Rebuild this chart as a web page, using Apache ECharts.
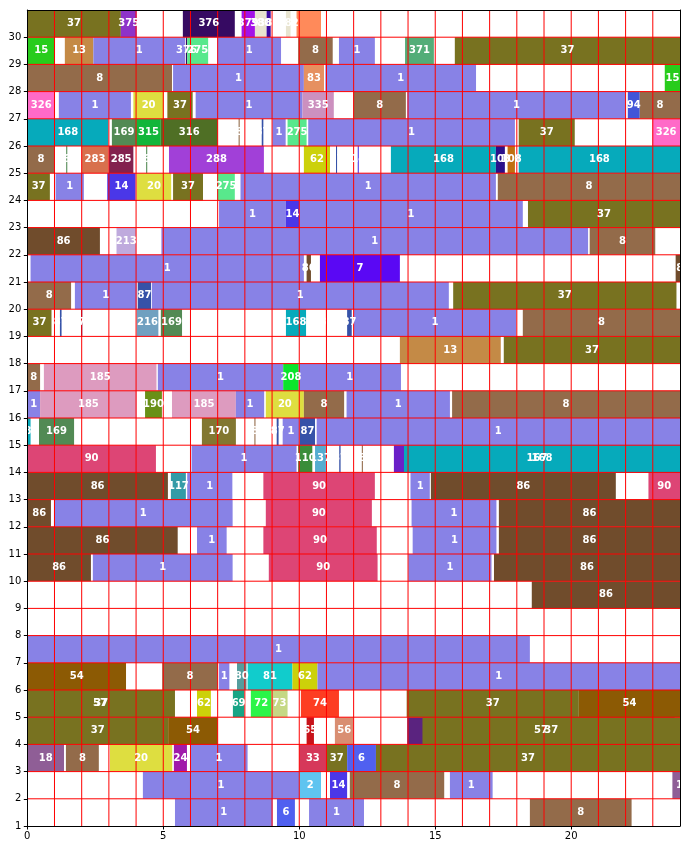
<!DOCTYPE html>
<html><head><meta charset="utf-8">
<script src="https://cdn.jsdelivr.net/npm/echarts/dist/echarts.min.js"></script>
<style>html,body{margin:0;padding:0;background:#fff}#c{width:691px;height:850px}</style>
</head><body><div id="c"></div>
<script>
// Each row: [start, end, job, (optional) showLabel]
const r30 = [[0,3.44,37],[3.44,4.02,375],[5.72,7.63,376],[7.88,8.37,379],[8.37,8.80,380],[8.80,8.95,381],[9.51,9.68,382],[9.90,10.80,383,false]];
const r29 = [[0,1.02,15],[1.38,2.43,13],[2.43,5.80,1],[5.83,5.88,376],[5.88,6.65,275],[6.99,9.33,1],[9.96,11.23,8],[11.46,12.78,1],[13.89,14.95,371],[15.72,24,37]];
const r28 = [[0,5.32,8],[5.36,10.17,1],[10.17,10.91,83],[10.96,16.50,1],[23.44,24,15]];
const r27 = [[0,1.02,326],[1.16,3.81,1],[3.90,5.02,20],[5.15,6.08,37],[6.19,10.12,1],[10.12,11.27,335],[11.99,13.92,8],[13.97,22.0,1],[22.08,22.52,94],[22.52,24,8]];
const r26 = [[0,2.98,168],[3.11,4.0,169],[4.0,4.91,315],[4.91,7.0,316],[7.77,7.81,8],[8.62,8.68,87],[9.01,9.50,1],[9.57,10.27,275],[10.33,17.93,1],[18.07,20.13,37],[22.98,24,326]];
const r25 = [[0,1.0,8],[1.43,1.47,169],[2.0,2.98,283],[3.0,3.90,285],[4.37,4.41,169],[5.21,8.70,288],[10.17,11.13,62],[11.35,11.39,87],[12.15,12.19,14],[13.37,17.23,168],[17.23,17.56,103],[17.66,17.93,108],[18.07,24,168]];
const r24 = [[0,0.83,37],[1.04,2.08,1],[2.94,3.98,14],[4.02,5.29,20],[5.36,6.46,37],[6.99,7.63,275],[7.84,17.23,1],[17.30,24,8]];
const r23 = [[7.05,9.51,1],[9.51,9.99,14],[9.99,18.22,1],[18.41,24,37]];
const r22 = [[0,2.67,86],[3.28,4.0,213],[4.93,20.62,1],[20.68,23.09,8]];
const r21 = [[0.12,10.17,1],[10.27,10.43,86],[10.76,13.70,7],[23.84,24.4,86]];
const r20 = [[0,1.61,8],[1.75,4.02,1],[4.06,4.55,87],[4.58,15.50,1],[15.66,23.87,37]];
const r19 = [[0,0.89,37],[1.2,1.26,87],[1.98,2.02,376],[4.02,4.82,216],[4.91,5.69,169],[9.51,10.25,168],[10.98,11.02,83],[11.76,11.93,87],[12.01,17.98,1],[18.22,24,8]];
const r18 = [[13.70,17.41,13],[17.52,24,37]];
const r17 = [[0,0.47,8],[0.61,4.75,185],[4.80,9.41,1],[9.41,9.98,208],[9.98,13.74,1]];
const r16 = [[0,0.47,1],[0.47,4.02,185],[4.33,4.95,190],[5.32,7.67,185],[7.67,8.71,1],[8.77,10.17,20],[10.17,11.65,8],[11.74,15.54,1],[15.62,24,8]];
const r15 = [[-0.58,0.12,168],[0.43,1.72,169],[6.42,7.67,170],[8.35,8.39,8],[9.17,9.24,87],[9.39,10.0,1],[10.02,10.58,87],[10.64,24,1]];
const r14 = [[0,4.73,90],[6.04,9.90,1],[9.96,10.48,110],[10.58,10.98,137],[11.47,11.52,87],[12.30,12.34,8],[13.48,24,167],[13.85,24,168]];
const r13 = [[0,5.17,86],[5.28,5.83,117],[5.88,7.54,1],[8.68,12.78,90],[14.09,14.80,1],[14.84,21.64,86],[22.84,24,90]];
const r12 = [[0,0.87,86],[0.98,7.55,1],[8.77,12.67,90],[14.13,17.25,1],[17.34,24,86]];
const r11 = [[0,5.53,86],[6.24,7.33,1],[8.68,12.85,90],[14.17,17.25,1],[17.34,24,86]];
const r10 = [[0,2.34,86],[2.41,7.55,1],[8.88,12.88,90],[14.01,17.07,1],[17.16,24,86]];
const r9 = [[18.55,24,86]];
const r8 = [];
const r7 = [[0,18.48,1]];
const r6 = [[0,3.63,54],[4.96,7.0,8],[7.05,7.43,1],[7.71,8.06,80],[8.10,9.75,81],[9.75,10.67,62],[10.67,24,1]];
const r5 = [[0,5.35,57],[0,5.43,37],[6.24,6.75,62],[7.56,7.98,69],[8.22,8.98,72],[8.98,9.57,73],[10.06,11.46,74],[13.95,20.28,37],[20.28,24,54]];
const r4 = [[0,5.18,37],[5.18,7.0,54],[10.27,10.54,65],[11.31,11.99,56],[13.97,23.8,57],[14.53,24,37]];
const r3 = [[0,1.35,18],[1.42,2.63,8],[3.04,5.33,20],[5.39,5.87,24],[6.0,8.1,1],[10.0,11.0,33],[11.0,11.76,37],[11.76,12.82,6],[12.82,24,37]];
const r2 = [[4.25,10.0,1],[10.0,10.8,2],[11.13,11.76,14],[11.86,15.33,8],[15.54,17.11,1],[23.72,24.5,18]];
const r1 = [[5.43,9.02,1],[9.18,9.84,6],[10.36,12.38,1],[18.48,22.22,8]];

const rowLists = [r1,r2,r3,r4,r5,r6,r7,r8,r9,r10,r11,r12,r13,r14,r15,r16,r17,r18,r19,r20,r21,r22,r23,r24,r25,r26,r27,r28,r29,r30];
const yTickValues = [1,2,3,4,5,6,7,8,9,10,11,12,13,14,15,16,17,18,19,20,21,22,23,24,25,26,27,28,29,30];
const xTickValues = [0,5,10,15,20];

const jobColors = {
  1:'#8882e6',2:'#5fc4f0',6:'#5060f0',7:'#5a08f4',8:'#936b4a',13:'#c48a46',14:'#4a37e8',15:'#28cc1c',
  18:'#8f5e96',20:'#dede40',24:'#a01aaa',33:'#d6385a',37:'#787220',54:'#8c5a04',56:'#d98e72',57:'#5a237f',
  62:'#ccd10a',65:'#c8131a',69:'#17a585',72:'#2bf548',73:'#c5d884',74:'#fd3d22',80:'#559d9d',81:'#11cccc',
  83:'#e69060',86:'#704c2c',87:'#3652a8',90:'#dd4575',94:'#4355d8',103:'#2a108a',108:'#c07010',110:'#3a8d3a',
  117:'#349ba7',137:'#54add0',167:'#6a20c8',168:'#06aabb',169:'#528a54',170:'#827731',185:'#dd9bbf',
  190:'#699017',208:'#0ae52b',213:'#bfaadd',216:'#70a0c0',275:'#58e88c',283:'#d8704d',285:'#83214e',288:'#a140d8',
  315:'#12b63a',316:'#4f6f25',326:'#ff6ac8',335:'#cc90bf',371:'#53ad78',375:'#8e33c9',376:'#360a62',
  379:'#a312e8',380:'#e8e4d0',381:'#3a0aa0',382:'#e8e4d0',383:'#ff8a5a'
};

const items = [];
rowLists.forEach((list, i) => {
  const row = yTickValues[i];
  list.forEach(b => {
    items.push({ value: [b[0], b[1], row, b[2], b[3] === false ? 0 : 1], itemStyle: { color: jobColors[b[2]] || '#888' } });
  });
});

const chart = echarts.init(document.getElementById('c'), null, { renderer: 'canvas' });
const FONT = '"DejaVu Sans", sans-serif';

function renderBar(params, api) {
  const s = api.value(0), e = api.value(1), r = api.value(2);
  const p0 = api.coord([s, r + 1]);
  const p1 = api.coord([e, r]);
  return { type: 'rect', shape: { x: p0[0], y: p0[1], width: p1[0] - p0[0], height: p1[1] - p0[1] },
    style: { fill: api.visual('color') } };
}
function renderLabel(params, api) {
  const s = api.value(0), e = api.value(1), r = api.value(2), j = api.value(3), show = api.value(4);
  const p = api.coord([(s + e) / 2, r + 0.5]);
  return { type: 'text', x: p[0], y: p[1], invisible: !show,
    style: { text: String(j), fill: '#ffffff', font: 'bold 10px ' + FONT, align: 'center', verticalAlign: 'middle' } };
}
function renderGrid(params, api) {
  const children = [];
  for (let x = 1; x <= 23; x++) {
    const a = api.coord([x, 1]), b = api.coord([x, 31]);
    children.push({ type: 'line', shape: { x1: a[0], y1: a[1], x2: b[0], y2: b[1] }, style: { stroke: '#ff0000', lineWidth: 1 } });
  }
  for (let y = 2; y <= 30; y++) {
    const a = api.coord([0, y]), b = api.coord([24, y]);
    children.push({ type: 'line', shape: { x1: a[0], y1: a[1], x2: b[0], y2: b[1] }, style: { stroke: '#ff0000', lineWidth: 1 } });
  }
  return { type: 'group', children };
}

chart.setOption({
  animation: false,
  backgroundColor: '#ffffff',
  grid: { left: 27.3, right: 11, top: 10, bottom: 24, containLabel: false },
  xAxis: [
    { type: 'value', min: 0, max: 24, interval: 5, position: 'bottom', z: 10,
      axisLine: { show: true, onZero: false, lineStyle: { color: '#000', width: 1 } },
      axisTick: { show: true, inside: false, length: 3.5, lineStyle: { color: '#000' }, customValues: xTickValues },
      axisLabel: { color: '#000', fontSize: 10, fontFamily: FONT, margin: 5, customValues: xTickValues,
        formatter: v => (xTickValues.indexOf(v) >= 0 ? String(v) : '') },
      splitLine: { show: false } },
    { type: 'value', min: 0, max: 24, position: 'top', z: 10,
      axisLine: { show: true, onZero: false, lineStyle: { color: '#000', width: 1 } },
      axisTick: { show: false }, axisLabel: { show: false }, splitLine: { show: false } }
  ],
  yAxis: [
    { type: 'value', min: 1, max: 31, interval: 1, position: 'left', z: 10,
      axisLine: { show: true, onZero: false, lineStyle: { color: '#000', width: 1 } },
      axisTick: { show: true, inside: false, length: 3.5, lineStyle: { color: '#000' }, customValues: yTickValues },
      axisLabel: { color: '#000', fontSize: 10, fontFamily: FONT, margin: 6, customValues: yTickValues,
        formatter: v => (yTickValues.indexOf(v) >= 0 ? String(v) : '') },
      splitLine: { show: false } },
    { type: 'value', min: 1, max: 31, position: 'right', z: 10,
      axisLine: { show: true, onZero: false, lineStyle: { color: '#000', width: 1 } },
      axisTick: { show: false }, axisLabel: { show: false }, splitLine: { show: false } }
  ],
  series: [
    { type: 'custom', renderItem: renderBar, data: items, clip: true, z: 2,
      encode: { x: [0, 1], y: 2 } },
    { type: 'custom', renderItem: renderGrid, data: [[0, 1]], clip: true, z: 3, silent: true },
    { type: 'custom', renderItem: renderLabel, data: items, clip: true, z: 4,
      encode: { x: [0, 1], y: 2 } }
  ]
});
</script>
</body></html>
